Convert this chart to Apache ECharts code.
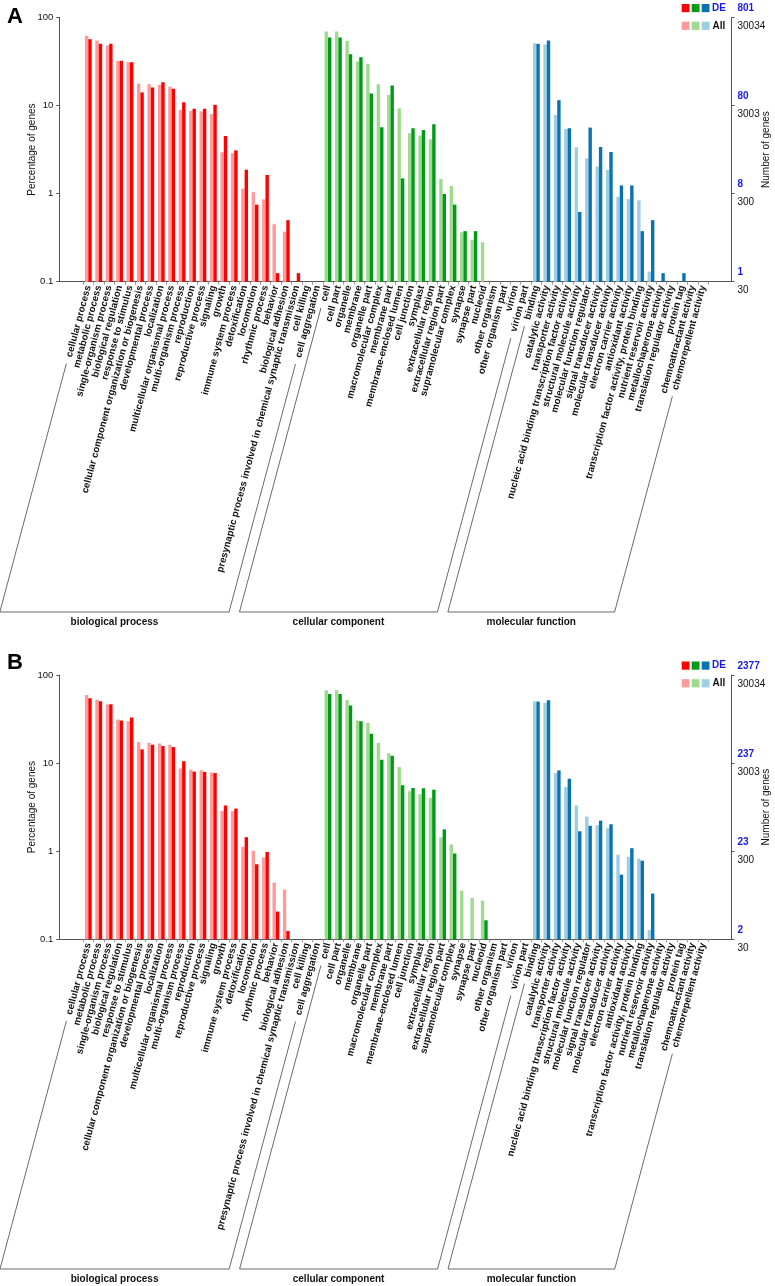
<!DOCTYPE html>
<html>
<head>
<meta charset="utf-8">
<script src="https://cdn.jsdelivr.net/npm/echarts@6.0.0/dist/echarts.min.js"></script>
<style>
html, body { margin: 0; padding: 0; background: #fff; }
#chart { width: 775px; height: 1286px; }
</style>
</head>
<body>
<div id="chart"></div>
<script>
// GO terms, in plotting order
const bpTerms = ['cellular process', 'metabolic process', 'single-organism process', 'biological regulation',
    'response to stimulus', 'cellular component organization or biogenesis', 'developmental process',
    'localization', 'multicellular organismal process', 'multi-organism process', 'reproduction',
    'reproductive process', 'signaling', 'growth', 'immune system process', 'detoxification', 'locomotion',
    'rhythmic process', 'behavior', 'biological adhesion',
    'presynaptic process involved in chemical synaptic transmission', 'cell killing', 'cell aggregation']
const ccTerms = ['cell', 'cell part', 'organelle', 'membrane', 'organelle part', 'macromolecular complex',
    'membrane part', 'membrane-enclosed lumen', 'cell junction', 'symplast', 'extracellular region',
    'extracellular region part', 'supramolecular complex', 'synapse', 'synapse part', 'nucleoid',
    'other organism', 'other organism part', 'virion', 'virion part']
const mfTerms = ['binding', 'catalytic activity', 'transporter activity',
    'nucleic acid binding transcription factor activity', 'structural molecule activity',
    'molecular function regulator', 'signal transducer activity', 'molecular transducer activity',
    'electron carrier activity', 'antioxidant activity', 'transcription factor activity, protein binding',
    'nutrient reservoir activity', 'metallochaperone activity', 'translation regulator activity',
    'protein tag', 'chemoattractant activity', 'chemorepellent activity']
const groupNames = ['biological process', 'cellular component', 'molecular function']

// percentage of genes, panel A (null = below 0.1 %)
const allA_bp = [62, 54.8, 48, 32.2, 31.1, 17.8, 17.5, 17.2, 16.4, 8.9, 8.7, 8.6, 8.0, 2.95, 2.87, 1.14, 1.04, 0.86, 0.45, 0.37, null, null, null]
const deA_bp = [56.7, 50.3, 50.3, 32.2, 31.1, 14.1, 16.0, 18.4, 15.5, 10.9, 9.2, 9.2, 10.2, 4.5, 3.1, 1.87, 0.75, 1.63, 0.125, 0.5, 0.125, null, null]
const allA_cc = [69.3, 69.3, 54.3, 31.6, 29.7, 17.5, 13.2, 9.3, 4.85, 4.56, 4.14, 1.47, 1.22, 0.364, 0.3, 0.28, null, null, null, null]
const deA_cc = [59.3, 59.3, 38.3, 35.4, 13.7, 5.67, 16.9, 1.49, 5.53, 5.29, 6.14, 0.99, 0.75, 0.375, 0.375, null, null, null, null, null]
const allA_mf = [51.1, 49.3, 7.83, 5.43, 3.36, 2.52, 2.03, 1.86, 0.92, 0.87, 0.84, 0.13, null, null, null, null, null]
const deA_mf = [50.2, 54.8, 11.5, 5.53, 0.62, 5.62, 3.39, 2.97, 1.24, 1.24, 0.375, 0.5, 0.125, null, 0.125, null, null]

// percentage of genes, panel B
const allB_bp = [59.4, 52.6, 46.5, 31.2, 29.9, 17.3, 17.0, 16.7, 16.1, 8.7, 8.4, 8.3, 7.8, 2.86, 2.84, 1.12, 1.01, 0.85, 0.44, 0.365, null, null, null]
const deB_bp = [54.4, 50.3, 46.5, 30.4, 32.9, 14.3, 16.1, 15.6, 15.2, 10.5, 8.0, 7.9, 7.7, 3.29, 3.04, 1.44, 0.71, 0.98, 0.206, 0.124, null, null, null]
const allB_cc = [67.0, 67.0, 52.1, 30.4, 28.6, 17.0, 12.9, 9.0, 4.78, 4.42, 4.05, 1.43, 1.19, 0.356, 0.294, 0.274, null, null, null, null]
const deB_cc = [60.9, 60.9, 45.0, 29.9, 21.5, 10.9, 12.1, 5.59, 5.21, 5.17, 4.99, 1.77, 0.94, null, null, 0.164, null, null, null, null]
const allB_mf = [49.9, 48.2, 7.71, 5.35, 3.29, 2.47, 1.97, 1.82, 0.91, 0.86, 0.82, 0.127, null, null, null, null, null]
const deB_mf = [49.9, 51.6, 8.26, 6.65, 1.68, 1.94, 2.22, 2.02, 0.54, 1.08, 0.78, 0.33, null, null, null, null, null]

// tick labels
const pctTicks = ['0.1', '1', '10', '100']
const allGeneTicks = ['30', '300', '3003', '30034']
const deGeneTicksA = ['1', '8', '80', '801']
const deGeneTicksB = ['2', '23', '237', '2377']

const categories = bpTerms.concat(ccTerms, mfTerms)
const groupSizes = [bpTerms.length, ccTerms.length, mfTerms.length]
const colors = [
    { all: '#ff9a9a', de: '#ff0000' },
    { all: '#9edb8e', de: '#009a17' },
    { all: '#9ccfe3', de: '#0a72b2' }
]
const FONT = '"Liberation Sans", Arial, sans-serif'
const LABEL_FONT_SIZE = 9.7
const LABEL_ROTATE = 75

function groupOf (i) {
    if (i < groupSizes[0]) return 0
    if (i < groupSizes[0] + groupSizes[1]) return 1
    return 2
}
function toSeries (arr) {
    return arr.map(v => (v == null ? '-' : v))
}
function tickIndex (v) {
    return Math.round(Math.log10(v)) + 1
}

const panels = [
    { letter: 'A', top: 17.5, letterTop: 1, bottomLine: 612,
      all: allA_bp.concat(allA_cc, allA_mf), de: deA_bp.concat(deA_cc, deA_mf), deTicks: deGeneTicksA },
    { letter: 'B', top: 675, letterTop: 647, bottomLine: 1269,
      all: allB_bp.concat(allB_cc, allB_mf), de: deB_bp.concat(deB_cc, deB_mf), deTicks: deGeneTicksB }
]
const PLOT_H = 264.2
const FRAME_LEFT = 59.3
const FRAME_RIGHT = 775 - 731.5
const BAR_LEFT = 83.1
const BAR_RIGHT = 775 - 708.3

const grid = []
const xAxis = []
const yAxis = []
const series = []
const title = []

panels.forEach((p, k) => {
    const frameGrid = k * 2
    const barGrid = k * 2 + 1
    grid.push({ left: FRAME_LEFT, right: FRAME_RIGHT, top: p.top, height: PLOT_H, outerBoundsMode: 'none', containLabel: false })
    grid.push({ left: BAR_LEFT, right: BAR_RIGHT, top: p.top, height: PLOT_H, outerBoundsMode: 'none', containLabel: false })

    xAxis.push({
        gridIndex: frameGrid, type: 'value', min: 0, max: 1,
        axisLine: { show: true, lineStyle: { color: '#555', width: 1 } },
        axisTick: { show: false }, axisLabel: { show: false }, splitLine: { show: false }
    })
    xAxis.push({
        gridIndex: barGrid, type: 'category', data: categories,
        axisLine: { show: false },
        axisTick: { show: true, interval: 0, length: 3, lineStyle: { color: '#999' } },
        axisLabel: {
            interval: 0, rotate: LABEL_ROTATE, margin: 4, color: '#111',
            fontFamily: FONT, fontSize: LABEL_FONT_SIZE, fontWeight: 'bold'
        },
        splitLine: { show: false }
    })

    yAxis.push({
        gridIndex: frameGrid, type: 'log', min: 0.1, max: 100, position: 'left', splitNumber: 3,
        name: 'Percentage of genes', nameLocation: 'middle', nameRotate: 90, nameGap: 22, nameMoveOverlap: false,
        nameTextStyle: { fontFamily: FONT, fontSize: 10, color: '#111' },
        axisLine: { show: true, lineStyle: { color: '#555' } },
        axisTick: { show: true, length: 3, lineStyle: { color: '#555' } },
        axisLabel: { margin: 6, fontFamily: FONT, fontSize: 9.5, color: '#111', formatter: v => pctTicks[tickIndex(v)] },
        splitLine: { show: false }
    })
    yAxis.push({
        gridIndex: frameGrid, type: 'log', min: 0.1, max: 100, position: 'right', splitNumber: 3,
        name: 'Number of genes', nameLocation: 'middle', nameRotate: 90, nameGap: 30, nameMoveOverlap: false,
        nameTextStyle: { fontFamily: FONT, fontSize: 10, color: '#111' },
        axisLine: { show: true, lineStyle: { color: '#555' } },
        axisTick: { show: true, length: 3, lineStyle: { color: '#555' } },
        axisLabel: {
            margin: 6,
            formatter: v => '{d|' + p.deTicks[tickIndex(v)] + '}\n{a|' + allGeneTicks[tickIndex(v)] + '}',
            rich: {
                d: { fontFamily: FONT, fontSize: 10, fontWeight: 'bold', color: '#1a1aee', lineHeight: 18 },
                a: { fontFamily: FONT, fontSize: 10, color: '#111', lineHeight: 18 }
            }
        },
        splitLine: { show: false }
    })
    yAxis.push({
        gridIndex: barGrid, type: 'log', min: 0.1, max: 100, startValue: 0.1, show: false,
        splitLine: { show: false }
    })

    const barY = k * 3 + 2
    series.push({
        name: 'All', type: 'bar', xAxisIndex: barGrid, yAxisIndex: barY,
        data: toSeries(p.all), barWidth: 3.4, barGap: '0%',
        itemStyle: { color: d => colors[groupOf(d.dataIndex)].all },
        animation: false
    })
    series.push({
        name: 'DE', type: 'bar', xAxisIndex: barGrid, yAxisIndex: barY,
        data: toSeries(p.de), barWidth: 3.4, barGap: '0%',
        itemStyle: { color: d => colors[groupOf(d.dataIndex)].de },
        animation: false
    })

    title.push({
        text: p.letter, left: 2, top: p.letterTop,
        textStyle: { fontFamily: FONT, fontSize: 22, fontWeight: 'bold', color: '#000' }
    })
})

const chart = echarts.init(document.getElementById('chart'))
chart.setOption({ animation: false, title, grid, xAxis, yAxis, series })

// legend squares, group brackets and group names
const ctx = document.createElement('canvas').getContext('2d')
ctx.font = 'bold ' + LABEL_FONT_SIZE + 'px ' + FONT
const rad = LABEL_ROTATE * Math.PI / 180
const dir = [-Math.cos(rad), Math.sin(rad)]
const graphic = []

panels.forEach((p, k) => {
    const barGrid = k * 2 + 1
    const axisY = p.top + PLOT_H
    // legend
    const legendTop = p.top - 13.5
    colors.forEach((c, j) => {
        graphic.push({ type: 'rect', shape: { x: 681.7 + j * 10, y: legendTop, width: 7.8, height: 8.2 }, style: { fill: c.de } })
        graphic.push({ type: 'rect', shape: { x: 681.7 + j * 10, y: legendTop + 17.7, width: 7.8, height: 8.2 }, style: { fill: c.all } })
    })
    graphic.push({ type: 'text', x: 712, y: legendTop + 4.2,
        style: { text: 'DE', fill: '#1a1aee', font: 'bold 10px ' + FONT, verticalAlign: 'middle' } })
    graphic.push({ type: 'text', x: 712.5, y: legendTop + 21.9,
        style: { text: 'All', fill: '#111', font: 'bold 10px ' + FONT, verticalAlign: 'middle' } })

    // brackets below each group of labels
    let start = 0
    groupSizes.forEach((n, g) => {
        const ends = [start, start + n - 1].map(i => {
            const x = chart.convertToPixel({ xAxisIndex: barGrid }, i)
            const len = ctx.measureText(categories[i]).width + 4 + 7
            const top = [x + dir[0] * len, axisY + dir[1] * len]
            const t = (p.bottomLine - top[1]) / dir[1]
            return { top, bottom: [top[0] + dir[0] * t, p.bottomLine] }
        })
        graphic.push({
            type: 'polyline',
            shape: { points: [ends[0].top, ends[0].bottom, ends[1].bottom, ends[1].top] },
            style: { stroke: '#444', lineWidth: 0.8, fill: null }
        })
        graphic.push({
            type: 'text', x: (ends[0].bottom[0] + ends[1].bottom[0]) / 2, y: p.bottomLine + 10,
            style: { text: groupNames[g], fill: '#111', font: 'bold 10px ' + FONT, align: 'center', verticalAlign: 'middle' }
        })
        start += n
    })
})

chart.setOption({ graphic })
</script>
</body>
</html>
